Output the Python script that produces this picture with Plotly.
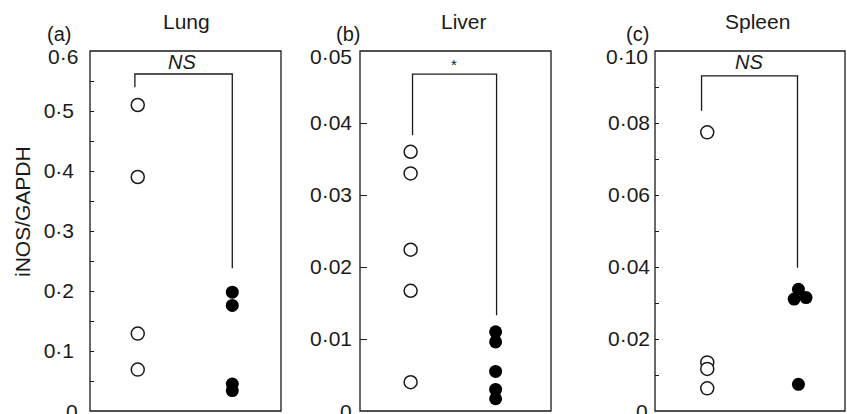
import plotly.graph_objects as go

# ---------------- data ----------------
panels = ["Lung", "Liver", "Spleen"]
panel_letters = ["(a)", "(b)", "(c)"]
significance = ["NS", "*", "NS"]

lung_open = [0.510, 0.390, 0.129, 0.069]
lung_filled = [0.198, 0.176, 0.045, 0.034]

liver_open = [0.0360, 0.0330, 0.0224, 0.0167, 0.0040]
liver_filled = [0.0110, 0.0096, 0.0055, 0.0030, 0.0017]

spleen_open = [0.0774, 0.0135, 0.0117, 0.0063]
spleen_filled = [0.0338, 0.0311, 0.0315, 0.0074]

lung_ticks = [0, 0.1, 0.2, 0.3, 0.4, 0.5, 0.6]
lung_ticktext = ["0", "0·1", "0·2", "0·3", "0·4", "0·5", "0·6"]
liver_ticks = [0, 0.01, 0.02, 0.03, 0.04, 0.05]
liver_ticktext = ["0", "0·01", "0·02", "0·03", "0·04", "0·05"]
spleen_ticks = [0, 0.02, 0.04, 0.06, 0.08, 0.10]
spleen_ticktext = ["0", "0·02", "0·04", "0·06", "0·08", "0·10"]

# ---------------- layout helpers ----------------
W, H = 847, 414
FONT = "Liberation Sans, Arial, Helvetica, sans-serif"
INK = "#1a1a1a"
TICK_SIZE = 21

def px(x):
    return x / W

def py(y):
    return 1 - y / H

# plot boxes in pixels (left, right)
boxes = [(90, 281), (360, 551), (655, 845)]
y_top, y_bot = 51, 411

# horizontal placement of the two groups (per panel)
open_x = [1.00, 1.03, 1.05]
filled_x = [1.99, 1.92, 2.01]
spleen_filled_jitter = [0.0, -0.045, 0.08, 0.0]

fig = go.Figure()

open_sets = [lung_open, liver_open, spleen_open]
filled_sets = [lung_filled, liver_filled, spleen_filled]

for i in range(3):
    xa = "x" if i == 0 else f"x{i+1}"
    ya = "y" if i == 0 else f"y{i+1}"
    ov = open_sets[i]
    fv = filled_sets[i]
    fig.add_trace(go.Scatter(
        x=[open_x[i]] * len(ov), y=ov, mode="markers", xaxis=xa, yaxis=ya,
        marker=dict(size=13, color="white", line=dict(color=INK, width=1.5)),
        showlegend=False, cliponaxis=False, hoverinfo="y"))
    if i == 2:
        fx = [filled_x[i] + j for j in spleen_filled_jitter]
    else:
        fx = [filled_x[i]] * len(fv)
    fig.add_trace(go.Scatter(
        x=fx, y=fv, mode="markers", xaxis=xa, yaxis=ya,
        marker=dict(size=13, color="black", line=dict(color="black", width=0)),
        showlegend=False, cliponaxis=False, hoverinfo="y"))

layout = dict(
    width=W, height=H,
    margin=dict(l=0, r=0, t=0, b=0, pad=0, autoexpand=False),
    paper_bgcolor="white", plot_bgcolor="white",
    font=dict(family=FONT, size=TICK_SIZE, color=INK),
    showlegend=False,
)

tick_sets = [(lung_ticks, lung_ticktext, 0.6, 4, 0.05, 15),
             (liver_ticks, liver_ticktext, 0.05, 7, None, 7),
             (spleen_ticks, spleen_ticktext, 0.10, 4, 0.01, 4)]

# edge labels (bottom "0" and top value) are placed as annotations
# because in the reference they are nudged from their tick
edge_label_right = [78, 352, 648]

for i in range(3):
    l, r = boxes[i]
    sx = "" if i == 0 else str(i + 1)
    layout["xaxis" + sx] = dict(
        domain=[px(l), px(r)], range=[0.5, 2.5], anchor="y" + sx,
        showgrid=False, zeroline=False, showticklabels=False, ticks="",
        showline=False)
    tv, tt, top, tl, minor, standoff = tick_sets[i]
    inner_text = [""] + tt[1:-1] + [""]
    yax = dict(
        domain=[py(y_bot), py(y_top)], range=[0, top], anchor="x" + sx,
        showgrid=False, zeroline=False,
        tickmode="array", tickvals=tv, ticktext=inner_text,
        ticks="inside", ticklen=tl, tickwidth=1.3, tickcolor=INK,
        ticklabelstandoff=standoff,
        tickfont=dict(family=FONT, size=TICK_SIZE, color=INK),
        showline=False)
    if minor:
        yax["minor"] = dict(ticks="inside", ticklen=tl, tickwidth=1.3,
                            tickcolor=INK, dtick=minor, tick0=0, showgrid=False)
    layout["yaxis" + sx] = yax

fig.update_layout(**layout)

all_ticktext = [lung_ticktext, liver_ticktext, spleen_ticktext]
for i in range(3):
    xr = edge_label_right[i] + 2
    fig.add_annotation(x=px(xr), y=py(57), xref="paper", yref="paper",
                       text=all_ticktext[i][-1], showarrow=False,
                       xanchor="right", yanchor="middle",
                       font=dict(family=FONT, size=TICK_SIZE, color=INK))
    fig.add_annotation(x=px(xr), y=py(411), xref="paper", yref="paper",
                       text=all_ticktext[i][0], showarrow=False,
                       xanchor="right", yanchor="middle",
                       font=dict(family=FONT, size=TICK_SIZE, color=INK))

# panel frames
for i in range(3):
    sx = "" if i == 0 else str(i + 1)
    fig.add_shape(type="rect", x0=0, x1=1, y0=0, y1=1,
                  xref=f"x{sx} domain", yref=f"y{sx} domain",
                  line=dict(color=INK, width=1.3), fillcolor="rgba(0,0,0,0)",
                  layer="above")

# significance brackets: (x_left, x_right, y_top, y_left_bottom, y_right_bottom)
brackets = [(0.97, 1.99, 0.5617, 0.5395, 0.238),
            (1.05, 1.93, 0.0468, 0.0383, 0.0133),
            (0.99, 2.00, 0.0931, 0.0834, 0.0398)]
for i, (xl, xr, yt, ylb, yrb) in enumerate(brackets):
    sx = "" if i == 0 else str(i + 1)
    fig.add_shape(type="path",
                  path=f"M {xl},{ylb} L {xl},{yt} L {xr},{yt} L {xr},{yrb}",
                  xref="x" + sx, yref="y" + sx,
                  line=dict(color=INK, width=1.3))

# significance labels
sig_pos = [(182, 62), (454, 64), (749, 62)]
for i, (sx_, sy_) in enumerate(sig_pos):
    txt = significance[i]
    if txt == "NS":
        txt = "<i>NS</i>"
        size = 20
    else:
        size = 15
    fig.add_annotation(x=px(sx_), y=py(sy_), xref="paper", yref="paper",
                       text=txt, showarrow=False, xanchor="center", yanchor="middle",
                       font=dict(family=FONT, size=size, color=INK))

# panel titles and letters
title_pos = [186, 464, 757]
letter_pos = [59, 348, 637]
for i in range(3):
    fig.add_annotation(x=px(title_pos[i]), y=py(21), xref="paper", yref="paper",
                       text=panels[i], showarrow=False, xanchor="center", yanchor="middle",
                       font=dict(family=FONT, size=21, color=INK))
    fig.add_annotation(x=px(letter_pos[i]), y=py(34), xref="paper", yref="paper",
                       text=panel_letters[i], showarrow=False, xanchor="center", yanchor="middle",
                       font=dict(family=FONT, size=20, color=INK))

# y-axis title
fig.add_annotation(x=px(22), y=py(212), xref="paper", yref="paper",
                   text="iNOS/GAPDH", showarrow=False, textangle=-90,
                   xanchor="center", yanchor="middle",
                   font=dict(family=FONT, size=21, color=INK))

fig.write_html("out.html", config={"displayModeBar": False},
               post_script="document.body.style.margin='0';document.body.style.overflow='hidden';")
